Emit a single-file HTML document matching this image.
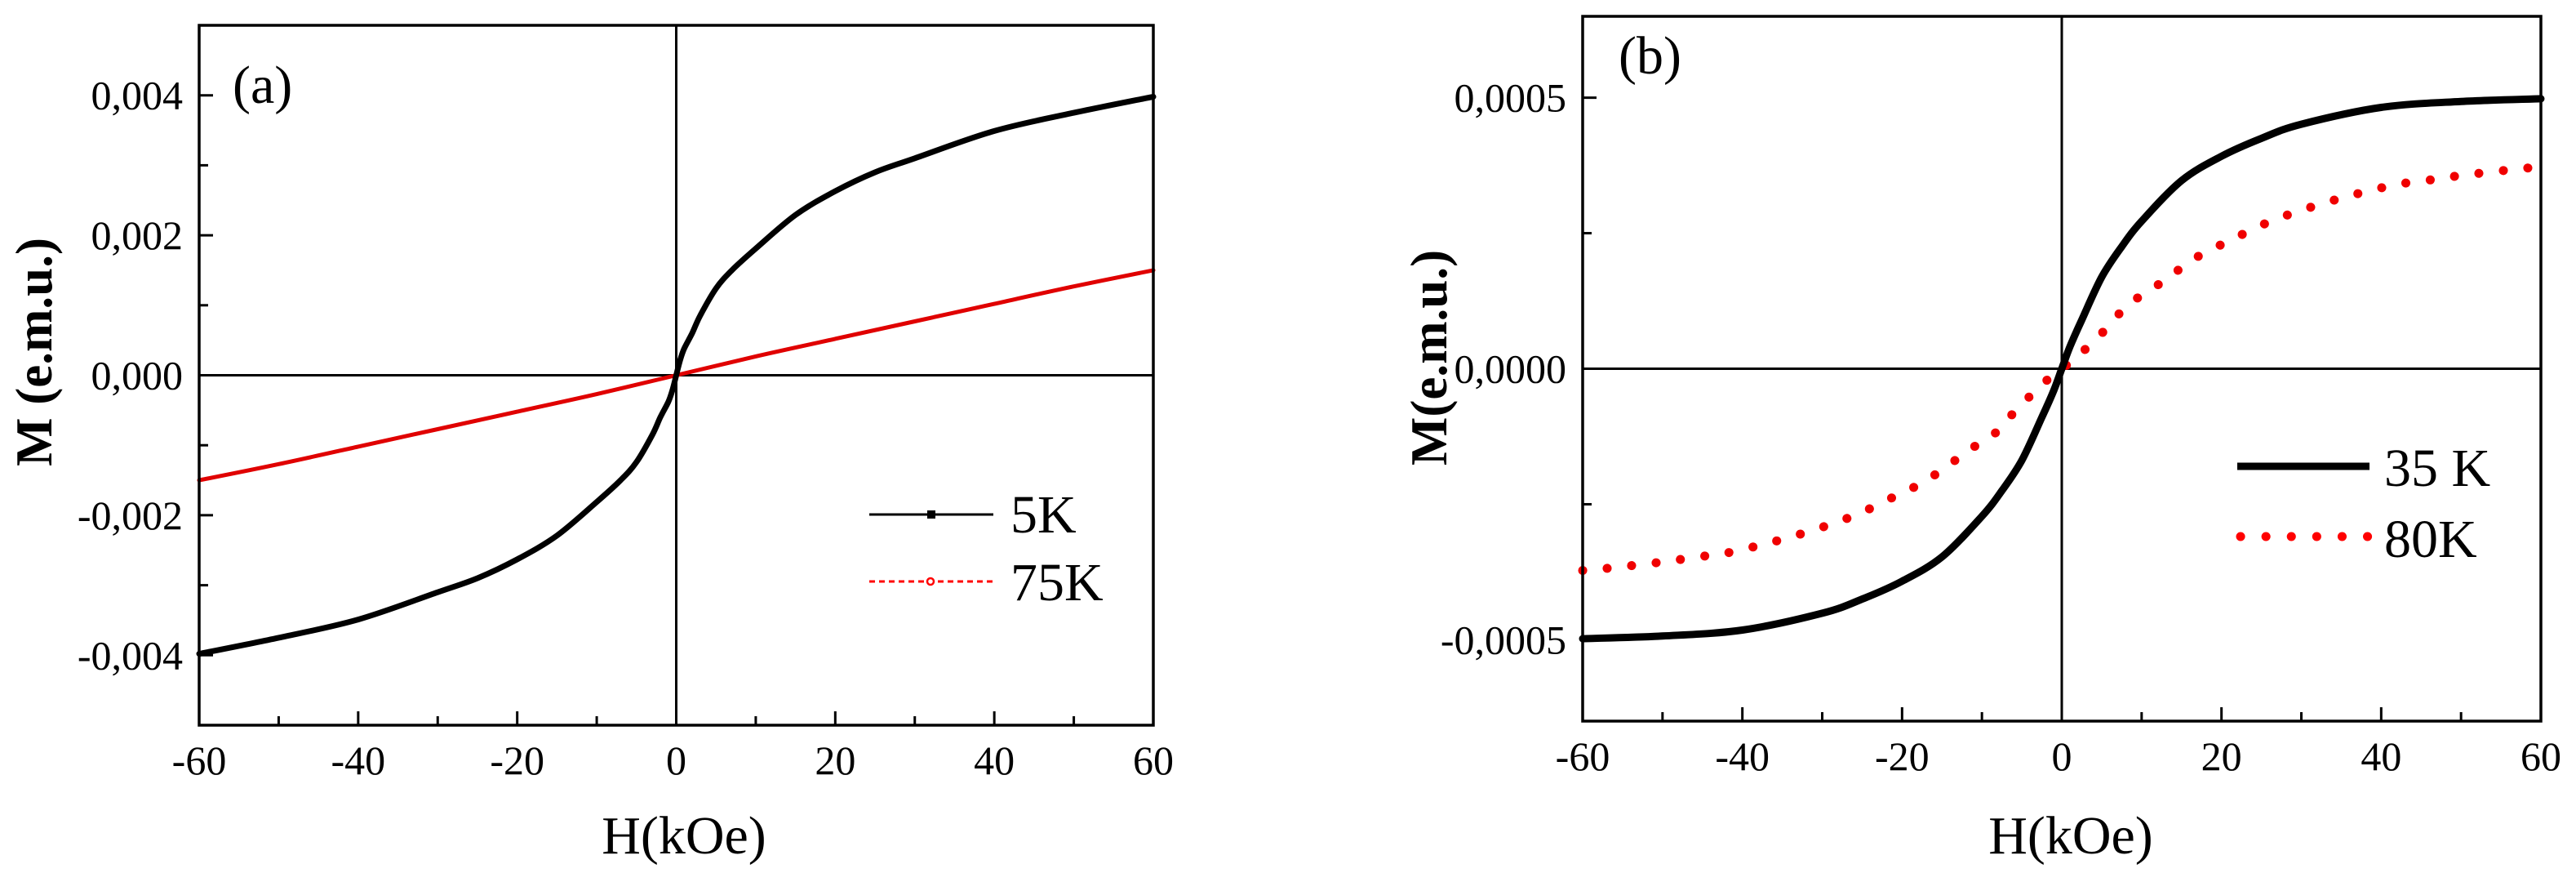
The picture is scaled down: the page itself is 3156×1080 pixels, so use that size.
<!DOCTYPE html>
<html><head><meta charset="utf-8"><style>
html,body{margin:0;padding:0;background:#fff;}
svg{display:block;font-family:"Liberation Serif","DejaVu Serif",serif;}
</style></head><body>
<svg id="fig" width="3156" height="1080" viewBox="0 0 3156 1080" xmlns="http://www.w3.org/2000/svg">
<rect width="3156" height="1080" fill="#fff"/>
</svg>
<script>
// ---- data panel (a) ----
const hA5 = [0,0.5,1,2,3,5,7,10,15,20,25,30,40,50,60];
const mA5 = [0,0.00022,0.00038,0.0006,0.00085,0.00124,0.0015,0.00181,0.00229,0.00263,0.0029,0.0031,0.00349,0.00375,0.00398];
const hA75 = [0,10,20,30,40,50,60];
const mA75 = [0,0.00027,0.00052,0.00077,0.00102,0.00127,0.0015];
const xTicksA = [-60,-40,-20,0,20,40,60];
const yTicksA = [-0.004,-0.002,0,0.002,0.004];
const yTickLabelsA = ["-0,004","-0,002","0,000","0,002","0,004"];
// ---- data panel (b) ----
const hB35 = [0,1,2.5,5,7.5,10,15,20,25,30,40,50,60];
const mB35 = [0,0.00004,0.00009,0.000169,0.000225,0.000272,0.000347,0.000392,0.000425,0.000451,0.000482,0.000493,0.000498];
const hB80 = [0,2,5.65,8.2,11.4,14.3,17.4,21,24.6,27.6,31.2,34.8,37.9,42,46,50.3,57.5,60];
const mB80 = [0,0.000023,0.000075,0.000117,0.000148,0.000179,0.00021,0.000236,0.000262,0.00028,0.000298,0.000314,0.000326,0.00034,0.000348,0.000357,0.000369,0.000372];
const xTicksB = [-60,-40,-20,0,20,40,60];
const yTicksB = [-0.0005,0,0.0005];
const yTickLabelsB = ["-0,0005","0,0000","0,0005"];

const NS="http://www.w3.org/2000/svg";
const svg=document.getElementById('fig');
function mk(tag,attrs,parent){const e=document.createElementNS(NS,tag);for(const k in attrs)e.setAttribute(k,attrs[k]);(parent||svg).appendChild(e);return e;}

function smoothPath(P){
  let d='M'+P[0][0].toFixed(1)+' '+P[0][1].toFixed(1);
  for(let i=0;i<P.length-1;i++){
    const p0=P[Math.max(0,i-1)],p1=P[i],p2=P[i+1],p3=P[Math.min(P.length-1,i+2)];
    const c1x=p1[0]+(p2[0]-p0[0])/6,c1y=p1[1]+(p2[1]-p0[1])/6;
    const c2x=p2[0]-(p3[0]-p1[0])/6,c2y=p2[1]-(p3[1]-p1[1])/6;
    d+='C'+c1x.toFixed(1)+' '+c1y.toFixed(1)+' '+c2x.toFixed(1)+' '+c2y.toFixed(1)+' '+p2[0].toFixed(1)+' '+p2[1].toFixed(1);
  }
  return d;
}

function panel(cfg){
  const g=mk('g',{});
  
  
  const L=cfg.L,R=cfg.R,T=cfg.T,B=cfg.B;
  const sx=h=>L+(h-cfg.xmin)/(cfg.xmax-cfg.xmin)*(R-L);
  const sy=m=>B-(m-cfg.ymin)/(cfg.ymax-cfg.ymin)*(B-T);
  const zx=mk('line',{x1:sx(0),x2:sx(0),y1:T,y2:B,stroke:'#000','stroke-width':3},g);
  
  
  const zy=mk('line',{x1:L,x2:R,y1:sy(0),y2:sy(0),stroke:'#000','stroke-width':3},g);
  
  
  cfg.series.forEach(s=>{
    const pts=[];
    for(let i=s.h.length-1;i>0;i--) pts.push([sx(-s.h[i]),sy(-s.m[i])]);
    for(let i=0;i<s.h.length;i++) pts.push([sx(s.h[i]),sy(s.m[i])]);
    const p=mk('path',{d:smoothPath(pts),fill:'none',stroke:s.color,'stroke-width':s.w,'stroke-linecap':'round','stroke-linejoin':'round'},g);
    if(s.dash)p.setAttribute('stroke-dasharray',s.dash);
    
    
  });
  const fr=mk('rect',{x:L,y:T,width:R-L,height:B-T,fill:'none',stroke:'#000','stroke-width':3.5},g);
  
  
  for(let v=cfg.xmin;v<=cfg.xmax;v+=10){
    const major=v%20===0;
    const t=mk('line',{x1:sx(v),x2:sx(v),y1:B,y2:B-(major?17:11),stroke:'#000','stroke-width':3},g);
    
    
  }
  cfg.xticks.forEach(v=>{
    const t=mk('text',{x:sx(v),y:B+60,'font-size':50,'text-anchor':'middle'},g);
    t.textContent=String(v);
    
    
  });
  cfg.yminor.forEach(v=>{
    const t=mk('line',{x1:L,x2:L+11,y1:sy(v),y2:sy(v),stroke:'#000','stroke-width':3},g);
    
    
  });
  cfg.yticks.forEach((v,i)=>{
    const t=mk('line',{x1:L,x2:L+17,y1:sy(v),y2:sy(v),stroke:'#000','stroke-width':3},g);
    
    
    const tx=mk('text',{x:L-20,y:sy(v)+17,'font-size':50,'text-anchor':'end'},g);
    tx.textContent=cfg.ylabels[i];
    
    
  });
  return g;
}

panel({name:'panel-a',L:244,R:1413,T:31,B:888,xmin:-60,xmax:60,ymin:-0.005,ymax:0.005,
  xticks:xTicksA,yticks:yTicksA,ylabels:yTickLabelsA,yminor:[-0.003,-0.001,0.001,0.003],
  series:[{id:'series-75k',h:hA75,m:mA75,color:'#e00000',w:5},
          {id:'series-5k',h:hA5,m:mA5,color:'#000',w:7}]});
panel({name:'panel-b',L:1939,R:3113,T:20,B:883,xmin:-60,xmax:60,ymin:-0.00065,ymax:0.00065,
  xticks:xTicksB,yticks:yTicksB,ylabels:yTickLabelsB,yminor:[-0.00025,0.00025],
  series:[{id:'series-80k',h:hB80,m:mB80,color:'#f00000',w:11,dash:'0.1 30'},
          {id:'series-35k',h:hB35,m:mB35,color:'#000',w:9}]});

function txt(x,y,s,size,name,extra){const t=mk('text',Object.assign({x:x,y:y,'font-size':size},extra||{}));t.textContent=s;return t;}
txt(285,126,'(a)',66,'panel-a-label');
txt(838,1045,'H(kOe)',66,'x-axis-title-a',{'text-anchor':'middle'});
txt(63,431,'M (e.m.u.)',63,'y-axis-title-a',{'text-anchor':'middle','font-weight':'bold',transform:'rotate(-90 63 431)'});
let l1=mk('line',{x1:1065,x2:1217,y1:630,y2:630,stroke:'#000','stroke-width':3});


let m1=mk('rect',{x:1136,y:625,width:10,height:10,fill:'#000'});


txt(1238,652,'5K',66,'legend-label-5k');
let l2=mk('line',{x1:1065,x2:1217,y1:712,y2:712,stroke:'#f00','stroke-width':3,'stroke-dasharray':'7 5'});


let m2=mk('circle',{cx:1140,cy:712,r:4,fill:'#fff',stroke:'#f00','stroke-width':2.5});


txt(1238,735,'75K',66,'legend-label-75k');
txt(1983,90,'(b)',66,'panel-b-label');
txt(2537,1045,'H(kOe)',66,'x-axis-title-b',{'text-anchor':'middle'});
txt(1772,438,'M(e.m.u.)',63,'y-axis-title-b',{'text-anchor':'middle','font-weight':'bold',transform:'rotate(-90 1772 438)'});
let l3=mk('line',{x1:2741,x2:2903,y1:571,y2:571,stroke:'#000','stroke-width':9});


txt(2921,595,'35 K',66,'legend-label-35k');
let l4=mk('line',{x1:2745,x2:2903,y1:657,y2:657,stroke:'#f00','stroke-width':11,'stroke-dasharray':'0.1 31','stroke-linecap':'round'});


txt(2921,682,'80K',66,'legend-label-80k');
</script>
</body></html>
